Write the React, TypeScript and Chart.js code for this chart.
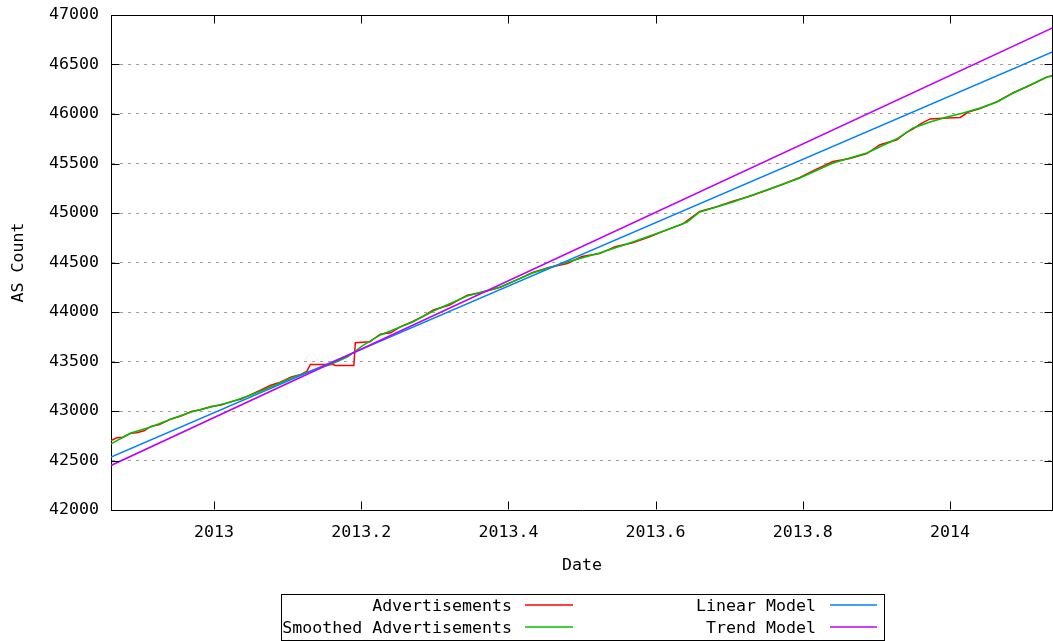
import React, { useEffect, useRef } from "react";
import { Chart, registerables } from "chart.js";

Chart.register(...registerables);

const FONT_FAMILY = '"DejaVu Sans Mono", "Liberation Mono", monospace';
const FONT_SIZE = 16.6;

// ---- data ----
const advDates = [
  2012.86, 2012.868, 2012.876, 2012.887, 2012.895, 2012.905, 2012.914, 2012.925, 2012.935, 2012.942,
  2012.955, 2012.969, 2012.98, 2012.996, 2013.01, 2013.023, 2013.037, 2013.05, 2013.063, 2013.077,
  2013.09, 2013.105, 2013.118, 2013.126, 2013.131, 2013.162, 2013.165, 2013.19, 2013.192, 2013.212,
  2013.22, 2013.226, 2013.24, 2013.253, 2013.27, 2013.285, 2013.298, 2013.32, 2013.344, 2013.365,
  2013.389, 2013.41, 2013.433, 2013.455, 2013.48, 2013.5, 2013.524, 2013.545, 2013.569, 2013.592,
  2013.615, 2013.637, 2013.66, 2013.682, 2013.705, 2013.728, 2013.751, 2013.773, 2013.796, 2013.818,
  2013.841, 2013.864, 2013.887, 2013.905, 2013.928, 2013.94, 2013.95, 2013.96, 2013.973, 2013.996,
  2014.014, 2014.025, 2014.041, 2014.064, 2014.086, 2014.109, 2014.132, 2014.14,
];
const advValues = [
  42700, 42730, 42735, 42775, 42780, 42800, 42845, 42860, 42895, 42920,
  42950, 42995, 43010, 43045, 43060, 43095, 43120, 43165, 43210, 43260,
  43290, 43345, 43370, 43400, 43470, 43470, 43460, 43460, 43690, 43700,
  43745, 43775, 43790, 43850, 43905, 43960, 44020, 44070, 44170, 44200,
  44250, 44320, 44400, 44450, 44490, 44560, 44590, 44660, 44700, 44760,
  44830, 44890, 45015, 45060, 45120, 45170, 45230, 45290, 45360, 45440,
  45520, 45550, 45600, 45690, 45740, 45810, 45850, 45900, 45950, 45960,
  45965, 46020, 46055, 46125, 46215, 46290, 46375, 46390,
];

const smoothDates = [
  2012.86, 2012.887, 2012.914, 2012.942, 2012.969, 2012.996, 2013.023, 2013.05, 2013.077, 2013.105,
  2013.135, 2013.158, 2013.181, 2013.202, 2013.226, 2013.253, 2013.27, 2013.298, 2013.344, 2013.389,
  2013.433, 2013.48, 2013.524, 2013.569, 2013.615, 2013.643, 2013.66, 2013.705, 2013.751, 2013.796,
  2013.841, 2013.887, 2013.928, 2013.95, 2013.973, 2013.996, 2014.018, 2014.041, 2014.064, 2014.086,
  2014.109, 2014.132, 2014.14,
];
const smoothValues = [
  42667, 42778, 42838, 42919, 42990, 43040, 43091, 43162, 43242, 43333,
  43414, 43470, 43545, 43660, 43768, 43848, 43899, 44010, 44162, 44253,
  44394, 44505, 44596, 44707, 44828, 44909, 45010, 45111, 45232, 45354,
  45505, 45606, 45750, 45859, 45919, 45970, 46010, 46061, 46121, 46212,
  46293, 46374, 46385,
];

const modelDates = [2012.86, 2014.14];
const linearValues = [42535, 46629];
const trendValues = [42450, 46873];

const xTicks = [2013, 2013.2, 2013.4, 2013.6, 2013.8, 2014];
const seriesLabels = ["Advertisements", "Smoothed Advertisements", "Linear Model", "Trend Model"];
const seriesColors = ["#ff0000", "#00c000", "#0080ff", "#c000ff"];

const toPoints = (xs: number[], ys: number[]) => xs.map((x, i) => ({ x, y: ys[i] }));

const framePlugin = {
  id: "gnuplotFrame",
  afterDraw(chart: any) {
    const { ctx, chartArea: a, scales } = chart;
    ctx.save();
    ctx.strokeStyle = "#000";
    ctx.lineWidth = 1;
    ctx.setLineDash([]);
    const seg = (x1: number, y1: number, x2: number, y2: number) => {
      ctx.beginPath();
      ctx.moveTo(x1, y1);
      ctx.lineTo(x2, y2);
      ctx.stroke();
    };
    const top = Math.round(a.top) + 0.5;
    const bottom = Math.round(a.bottom) - 0.5;
    const left = Math.round(a.left) + 0.5;
    const right = Math.round(a.right) - 0.5;
    seg(a.left, top, a.right, top);
    seg(right, a.top, right, a.bottom);
    // y ticks (inward, both sides)
    scales.y.ticks.forEach((t: any) => {
      const py = Math.round(scales.y.getPixelForValue(t.value)) + 0.5;
      seg(left, py, left + 8, py);
      seg(right, py, right - 8, py);
    });
    // x ticks (inward, bottom & top)
    scales.x.ticks.forEach((t: any) => {
      const px = Math.round(scales.x.getPixelForValue(t.value)) + 0.5;
      seg(px, bottom, px, bottom - 8);
      seg(px, top, px, top + 8);
    });

    // legend
    const bx = 281.5, by = 594.5, bw = 603, bh = 46;
    ctx.strokeRect(bx, by, bw, bh);
    ctx.font = `${FONT_SIZE}px ${FONT_FAMILY}`;
    ctx.fillStyle = "#000";
    ctx.textAlign = "right";
    ctx.textBaseline = "middle";
    const cols = [
      { textRight: 512, lx1: 525, lx2: 573 },
      { textRight: 816, lx1: 830, lx2: 877 },
    ];
    const rows = [607, 629];
    const order = [
      { i: 0, c: 0, r: 0 },
      { i: 1, c: 0, r: 1 },
      { i: 2, c: 1, r: 0 },
      { i: 3, c: 1, r: 1 },
    ];
    order.forEach(({ i, c, r }) => {
      const col = cols[c];
      ctx.fillText(seriesLabels[i], col.textRight, rows[r]);
      ctx.strokeStyle = seriesColors[i];
      ctx.lineWidth = 1.5;
      seg(col.lx1, rows[r] - 2, col.lx2, rows[r] - 2);
    });
    ctx.restore();
  },
};

export default function App() {
  const ref = useRef<HTMLCanvasElement | null>(null);

  useEffect(() => {
    if (!ref.current) return;
    Chart.defaults.color = "#000";
    const font = { family: FONT_FAMILY, size: FONT_SIZE };
    const mk = (i: number, data: any[]) => ({
      label: seriesLabels[i],
      data,
      borderColor: seriesColors[i],
      backgroundColor: seriesColors[i],
      borderWidth: 1.5,
      pointRadius: 0,
      tension: 0,
      fill: false,
    });
    // Chart.js paints dataset 0 last (on top): keep gnuplot's stacking (Trend on top, Advertisements at bottom)
    const chart = new Chart(ref.current, {
      type: "line",
      data: {
        datasets: [
          mk(3, toPoints(modelDates, trendValues)),
          mk(2, toPoints(modelDates, linearValues)),
          mk(1, toPoints(smoothDates, smoothValues)),
          mk(0, toPoints(advDates, advValues)),
        ],
      },
      options: {
        animation: false,
        responsive: false,
        events: [],
        layout: { padding: { top: 15, left: 0, right: 0, bottom: 60 } },
        plugins: { legend: { display: false }, tooltip: { enabled: false } },
        scales: {
          x: {
            type: "linear",
            min: 2012.86,
            max: 2014.14,
            afterBuildTicks: (s: any) => {
              s.ticks = xTicks.map((v) => ({ value: v }));
            },
            afterFit: (s: any) => {
              s.height = 71;
              s.paddingLeft = 0;
              s.paddingRight = 0;
            },
            ticks: {
              autoSkip: false,
              maxRotation: 0,
              padding: 13,
              font,
              color: "#000",
              callback: (v: any) => String(Number(Number(v).toFixed(1))),
            },
            grid: { display: false, drawTicks: false },
            border: { display: true, color: "#000", width: 1 },
            title: { display: true, text: "Date", font, color: "#000", padding: { top: 0, bottom: 5 } },
          },
          y: {
            type: "linear",
            min: 42000,
            max: 47000,
            afterFit: (s: any) => {
              s.width = 111;
              s.paddingTop = 0;
              s.paddingBottom = 0;
            },
            ticks: {
              stepSize: 500,
              padding: 12,
              font,
              color: "#000",
              callback: (v: any) => String(v),
            },
            grid: { display: true, drawTicks: false, color: "#a0a0a0", lineWidth: 1 },
            border: { display: true, color: "#000", width: 1, dash: [3, 5] },
            title: { display: true, text: "AS Count", font, color: "#000", padding: { top: 9, bottom: 0 } },
          },
        },
      },
      plugins: [framePlugin],
    } as any);
    return () => chart.destroy();
  }, []);

  return (
    <div style={{ position: "absolute", left: 0, top: 0, width: 1053, height: 641, background: "#fff" }}>
      <canvas ref={ref} width={1053} height={641} style={{ display: "block" }} />
    </div>
  );
}
